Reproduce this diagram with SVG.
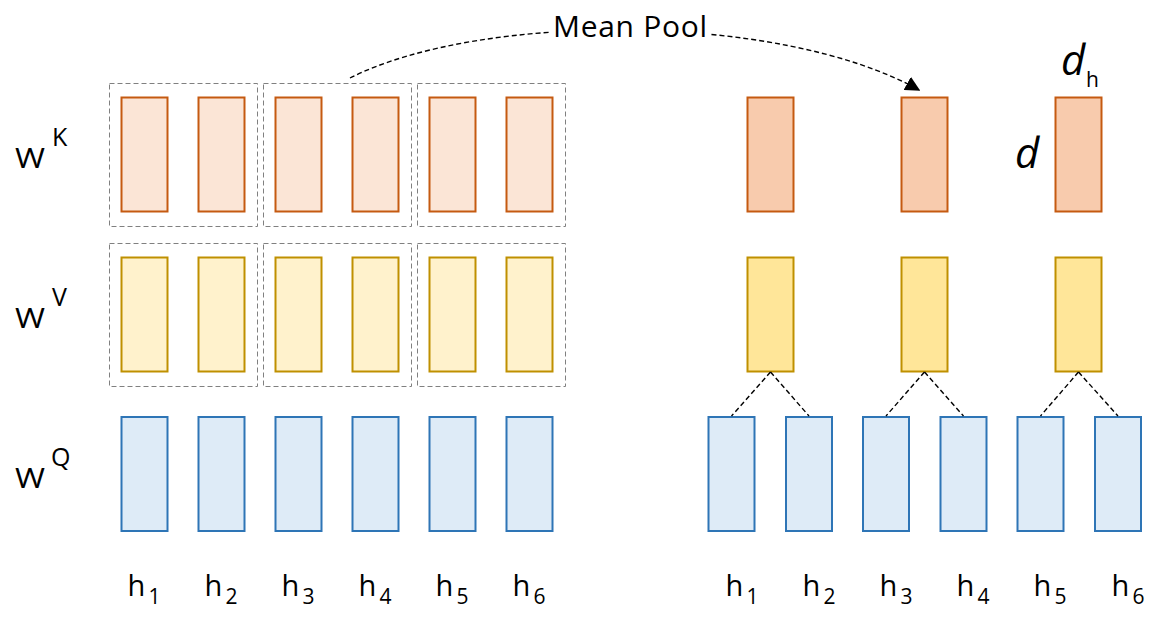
<svg xmlns="http://www.w3.org/2000/svg" width="1160" height="618" viewBox="0 0 1160 618">
<style>
text{font-family:"Open Sans","Liberation Sans",sans-serif;fill:#000}
.k{fill:#FBE5D6;stroke:#C55A11;stroke-width:2}
.k2{fill:#F8CBAD;stroke:#C55A11;stroke-width:2}
.v{fill:#FFF2CC;stroke:#BF9000;stroke-width:2}
.v2{fill:#FFE699;stroke:#BF9000;stroke-width:2}
.q{fill:#DEEBF7;stroke:#2E75B6;stroke-width:2}
.grp{fill:none;stroke:#808080;stroke-width:1;stroke-dasharray:5 3}
.con{fill:none;stroke:#000;stroke-width:1.4;stroke-dasharray:5 3}
.h{font-size:29px;text-anchor:middle}
.w{font-size:28px}
.s{font-size:25px}
.it{font-style:italic}
</style>
<defs>
<marker id="ah" viewBox="0 0 10 10" refX="9" refY="5" markerWidth="15" markerHeight="15" markerUnits="userSpaceOnUse" orient="auto">
<path d="M0,0 L10,5 L0,10 z" fill="#000"/>
</marker>
</defs>
<rect width="1160" height="618" fill="#fff"/>

<g id="row-labels">
<text class="w" x="15" y="168" textLength="30" lengthAdjust="spacingAndGlyphs">W</text>
<text class="s" x="52" y="146">K</text>
<text class="w" x="15" y="328" textLength="30" lengthAdjust="spacingAndGlyphs">W</text>
<text class="s" x="52" y="306">V</text>
<text class="w" x="15" y="488" textLength="30" lengthAdjust="spacingAndGlyphs">W</text>
<text class="s" x="51" y="466">Q</text>
</g>

<g id="groups">
<rect class="grp" x="109.5" y="83.5" width="148" height="143"/>
<rect class="grp" x="263.5" y="83.5" width="148" height="143"/>
<rect class="grp" x="417.5" y="83.5" width="148" height="143"/>
<rect class="grp" x="109.5" y="243.5" width="148" height="143"/>
<rect class="grp" x="263.5" y="243.5" width="148" height="143"/>
<rect class="grp" x="417.5" y="243.5" width="148" height="143"/>
</g>

<g id="left-k">
<rect id="lk1" class="k" x="121.5" y="97.5" width="46" height="114"/>
<rect id="lk2" class="k" x="198.5" y="97.5" width="46" height="114"/>
<rect id="lk3" class="k" x="275.5" y="97.5" width="46" height="114"/>
<rect id="lk4" class="k" x="352.5" y="97.5" width="46" height="114"/>
<rect id="lk5" class="k" x="429.5" y="97.5" width="46" height="114"/>
<rect id="lk6" class="k" x="506.5" y="97.5" width="46" height="114"/>
</g>
<g id="left-v">
<rect id="lv1" class="v" x="121.5" y="257.5" width="46" height="114"/>
<rect id="lv2" class="v" x="198.5" y="257.5" width="46" height="114"/>
<rect id="lv3" class="v" x="275.5" y="257.5" width="46" height="114"/>
<rect id="lv4" class="v" x="352.5" y="257.5" width="46" height="114"/>
<rect id="lv5" class="v" x="429.5" y="257.5" width="46" height="114"/>
<rect id="lv6" class="v" x="506.5" y="257.5" width="46" height="114"/>
</g>
<g id="left-q">
<rect id="lq1" class="q" x="121.5" y="417" width="46" height="114"/>
<rect id="lq2" class="q" x="198.5" y="417" width="46" height="114"/>
<rect id="lq3" class="q" x="275.5" y="417" width="46" height="114"/>
<rect id="lq4" class="q" x="352.5" y="417" width="46" height="114"/>
<rect id="lq5" class="q" x="429.5" y="417" width="46" height="114"/>
<rect id="lq6" class="q" x="506.5" y="417" width="46" height="114"/>
</g>

<g id="right-k">
<rect id="rk1" class="k2" x="747.5" y="97.5" width="46" height="114"/>
<rect id="rk2" class="k2" x="901.5" y="97.5" width="46" height="114"/>
<rect id="rk3" class="k2" x="1055.5" y="97.5" width="46" height="114"/>
</g>
<g id="right-v">
<rect id="rv1" class="v2" x="747.5" y="257.5" width="46" height="114"/>
<rect id="rv2" class="v2" x="901.5" y="257.5" width="46" height="114"/>
<rect id="rv3" class="v2" x="1055.5" y="257.5" width="46" height="114"/>
</g>
<g id="right-q">
<rect id="rq1" class="q" x="708.5" y="417" width="46" height="114"/>
<rect id="rq2" class="q" x="786" y="417" width="46" height="114"/>
<rect id="rq3" class="q" x="863" y="417" width="46" height="114"/>
<rect id="rq4" class="q" x="940.5" y="417" width="46" height="114"/>
<rect id="rq5" class="q" x="1017.5" y="417" width="46" height="114"/>
<rect id="rq6" class="q" x="1095" y="417" width="46" height="114"/>
</g>

<g id="connectors">
<path class="con" d="M350,78 C480,12 780,12 919,90" marker-end="url(#ah)"/>
<line class="con" x1="770.5" y1="372" x2="731.5" y2="416"/>
<line class="con" x1="770.5" y1="372" x2="809" y2="416"/>
<line class="con" x1="924.5" y1="372" x2="886" y2="416"/>
<line class="con" x1="924.5" y1="372" x2="963.5" y2="416"/>
<line class="con" x1="1078.5" y1="372" x2="1040.5" y2="416"/>
<line class="con" x1="1078.5" y1="372" x2="1118" y2="416"/>
</g>

<g id="mean-pool-label">
<rect x="550" y="10" width="160" height="34" fill="#fff"/>
<text x="553" y="37" font-size="30" textLength="154" lengthAdjust="spacing">Mean Pool</text>
</g>

<g id="dims">
<text class="it" x="1015" y="168" font-size="42">d</text>
<text class="it" x="1061" y="75" font-size="42">d</text>
<text x="1086" y="86.5" font-size="21">h</text>
</g>

<g id="head-labels">
<text class="h" x="144" y="596">h<tspan font-size="21" dx="3" dy="8">1</tspan></text>
<text class="h" x="221" y="596">h<tspan font-size="21" dx="3" dy="8">2</tspan></text>
<text class="h" x="298" y="596">h<tspan font-size="21" dx="3" dy="8">3</tspan></text>
<text class="h" x="375" y="596">h<tspan font-size="21" dx="3" dy="8">4</tspan></text>
<text class="h" x="452" y="596">h<tspan font-size="21" dx="3" dy="8">5</tspan></text>
<text class="h" x="529" y="596">h<tspan font-size="21" dx="3" dy="8">6</tspan></text>
<text class="h" x="742" y="596">h<tspan font-size="21" dx="3" dy="8">1</tspan></text>
<text class="h" x="819" y="596">h<tspan font-size="21" dx="3" dy="8">2</tspan></text>
<text class="h" x="896" y="596">h<tspan font-size="21" dx="3" dy="8">3</tspan></text>
<text class="h" x="973" y="596">h<tspan font-size="21" dx="3" dy="8">4</tspan></text>
<text class="h" x="1050" y="596">h<tspan font-size="21" dx="3" dy="8">5</tspan></text>
<text class="h" x="1128" y="596">h<tspan font-size="21" dx="3" dy="8">6</tspan></text>
</g>
</svg>
